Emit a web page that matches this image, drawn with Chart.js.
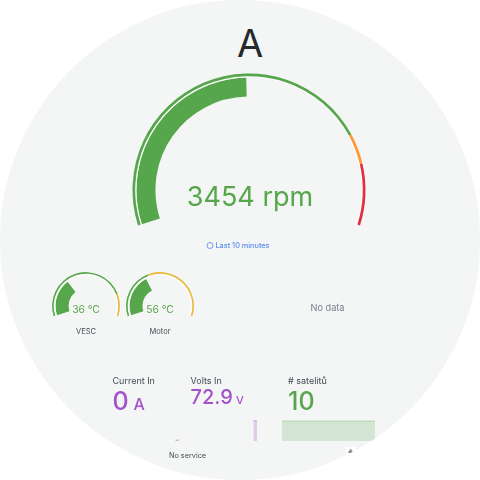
<!DOCTYPE html>
<html>
<head>
<meta charset="utf-8">
<script src="https://cdn.jsdelivr.net/npm/chart.js@4.4.0/dist/chart.umd.min.js"></script>
<style>
  html, body { margin: 0; padding: 0; background: #ffffff; }
  #face {
    position: absolute; left: 0; top: 0; width: 480px; height: 480px;
    border-radius: 50%; background: #f4f5f5; overflow: hidden;
    font-family: Inter, "Noto Sans", sans-serif;
  }
  canvas { position: absolute; }
  .txt { position: absolute; line-height: 1; white-space: nowrap; }
  .clock {
    display: inline-block; width: 5px; height: 5px; border: 1px solid #6b9cf2;
    border-radius: 50%; margin-right: 2px; vertical-align: -1px; box-sizing: content-box;
  }
</style>
</head>
<body>
<div id="face">
  <canvas id="rpmGauge" width="240" height="240" style="left:129px; top:70px"></canvas>
  <canvas id="tempGauge0" width="80" height="80" style="left:46px; top:266px"></canvas>
  <canvas id="tempGauge1" width="80" height="80" style="left:120px; top:266px"></canvas>
  <canvas id="spark0" width="73" height="21" style="left:106px; top:420px"></canvas>
  <canvas id="spark1" width="72" height="21" style="left:185px; top:420px"></canvas>
  <canvas id="spark2" width="93" height="21" style="left:282px; top:420px"></canvas>
</div>
<script>
// Dashboard values

// main rpm gauge
const rpmTitle = 'A';
const rpmValue = 3454;
const rpmUnit = 'rpm';
const rpmMax = 7000;
const rpmSteps = [0, 5500, 6000];
const rpmStepColors = ['#56a64b', '#ff9830', '#e02f44'];

// temperature gauges
const tempLabels = ['VESC', 'Motor'];
const tempValues = [36, 56];
const tempMax = [110, 150];
const tempSteps = [[0, 90], [0, 60]];
const tempStepColors = ['#56a64b', '#eab839'];

// stat panels with sparklines (time in seconds of the last 10 minutes)
const statTitles = ['Current In', 'Volts In', '# satelitů'];
const statValues = ['0', '72.9', '10'];
const statUnits = ['A', 'V', ''];
const statColors = ['#a352cc', '#a352cc', '#56a64b'];
const sparkTimes = [[570, 600], [570, 600], [0, 600]];
const sparkValues = [[0, 0], [72.9, 72.9], [10, 10]];
const sparkRange = [[-0.5, 10], [0, 75], [0, 10.5]];

const GAUGE_SWEEP = 215.4;   // degrees of the visible arc
const CLEAR = 'rgba(0,0,0,0)';

const face = document.getElementById('face');

// put a text element so its baseline sits at y
function placeText(html, x, baseline, size, color, align, weight) {
    const el = document.createElement('div');
    el.className = 'txt';
    el.innerHTML = html;
    el.style.fontSize = size + 'px';
    el.style.color = color;
    el.style.fontWeight = weight || 400;
    el.style.top = (baseline - 0.86 * size) + 'px';
    el.style.left = x + 'px';
    if (align === 'center') {
        el.style.transform = 'translateX(-50%)';
    }
    face.appendChild(el);
    return el;
}

function colorForValue(value, steps, colors) {
    let c = colors[0];
    steps.forEach((s, i) => { if (value >= s) c = colors[i]; });
    return c;
}

/**
 * Build a Grafana style gauge: thin threshold ring, spacer, thick value ring
 */
function makeGauge(canvasId, value, max, steps, colors, radius, cutoutPct, ringWeights) {
    const gap = max * (360 / GAUGE_SWEEP - 1);
    const thresholdData = steps.map((s, i) => (i + 1 < steps.length ? steps[i + 1] : max) - s);
    thresholdData.push(gap);
    const thresholdColors = colors.slice(0, steps.length).concat([CLEAR]);

    const valueData = [value, max - value, gap];
    const valueColors = [colorForValue(value, steps, colors), CLEAR, CLEAR];

    return new Chart(document.getElementById(canvasId), {
        type: 'doughnut',
        data: {
            datasets: [
                { data: thresholdData, backgroundColor: thresholdColors, borderWidth: 0, weight: ringWeights[0] },
                { data: [max, gap], backgroundColor: ['rgba(255,255,255,0.7)', CLEAR], borderWidth: 0, weight: ringWeights[1] },
                { data: valueData, backgroundColor: valueColors, borderWidth: 0, weight: ringWeights[2] }
            ]
        },
        options: {
            responsive: false,
            animation: false,
            events: [],
            rotation: -GAUGE_SWEEP / 2,
            circumference: 360,
            radius: radius,
            cutout: cutoutPct + '%',
            elements: { arc: { borderWidth: 0 } },
            layout: { padding: 0 },
            plugins: { legend: { display: false }, tooltip: { enabled: false } }
        }
    });
}

function makeSpark(canvasId, times, values, range, color, fillAlpha) {
    const rgb = color === '#56a64b' ? '86,166,75' : '163,82,204';
    return new Chart(document.getElementById(canvasId), {
        type: 'line',
        data: {
            datasets: [{
                data: times.map((t, i) => ({ x: t, y: values[i] })),
                borderColor: 'rgba(' + rgb + ',0.35)',
                backgroundColor: 'rgba(' + rgb + ',' + fillAlpha + ')',
                borderWidth: 1,
                fill: 'start',
                pointRadius: 0,
                tension: 0
            }]
        },
        options: {
            responsive: false,
            animation: false,
            events: [],
            layout: { padding: 0 },
            scales: {
                x: { type: 'linear', min: 0, max: 600, display: false },
                y: { min: range[0], max: range[1], display: false }
            },
            plugins: { legend: { display: false }, tooltip: { enabled: false } }
        }
    });
}

// main gauge
makeGauge('rpmGauge', rpmValue, rpmMax, rpmSteps, rpmStepColors, 116.5, 80.3, [2.7, 1.3, 19]);
placeText(rpmTitle, 250, 56.7, 38, '#24292e', 'center');
placeText(rpmValue + ' ' + rpmUnit, 250, 206, 27, '#56a64b', 'center');
placeText('<span class="clock"></span>Last 10 minutes', 238, 247.8, 7.3, '#5b8ff0', 'center', 500);

// temperature gauges
const tempCenters = [86, 160];
tempLabels.forEach((label, i) => {
    makeGauge('tempGauge' + i, tempValues[i], tempMax[i], tempSteps[i], tempStepColors, 33.9, 51.6, [1.6, 1.8, 13]);
    placeText(tempValues[i] + ' °C', tempCenters[i], 312.4, 10.3, '#56a64b', 'center');
    placeText(label, tempCenters[i], 334.5, 7.5, '#464c54', 'center');
});
placeText('No data', 327.5, 311, 9.2, '#7a7f8c', 'center');

// stat panels
const statLeft = [112.5, 190.5, 288];
const statSizes = [[25, 16], [20, 11], [25, 16]];
const statBase = [410.7, 404, 410.7];
statTitles.forEach((title, i) => {
    placeText(title, statLeft[i], 384.2, 9, '#464c54');
    let html = statValues[i];
    if (statUnits[i]) {
        html += '<span style="font-size:' + statSizes[i][1] + 'px; margin-left:' + (statSizes[i][1] * 0.3) + 'px">' + statUnits[i] + '</span>';
    }
    placeText(html, statLeft[i], statBase[i], statSizes[i][0], statColors[i], 'left', 500);
    makeSpark('spark' + i, sparkTimes[i], sparkValues[i], sparkRange[i], statColors[i], i === 2 ? 0.2 : 0.25);
});

placeText('No service', 187.5, 458.2, 7.3, '#464c54', 'center');
const icon = placeText('▲', 350.5, 452, 6, '#8e8e8e', 'center');
icon.style.background = '#ffffff';
icon.style.padding = '1px 2px 2px 2px';
</script>
</body>
</html>
